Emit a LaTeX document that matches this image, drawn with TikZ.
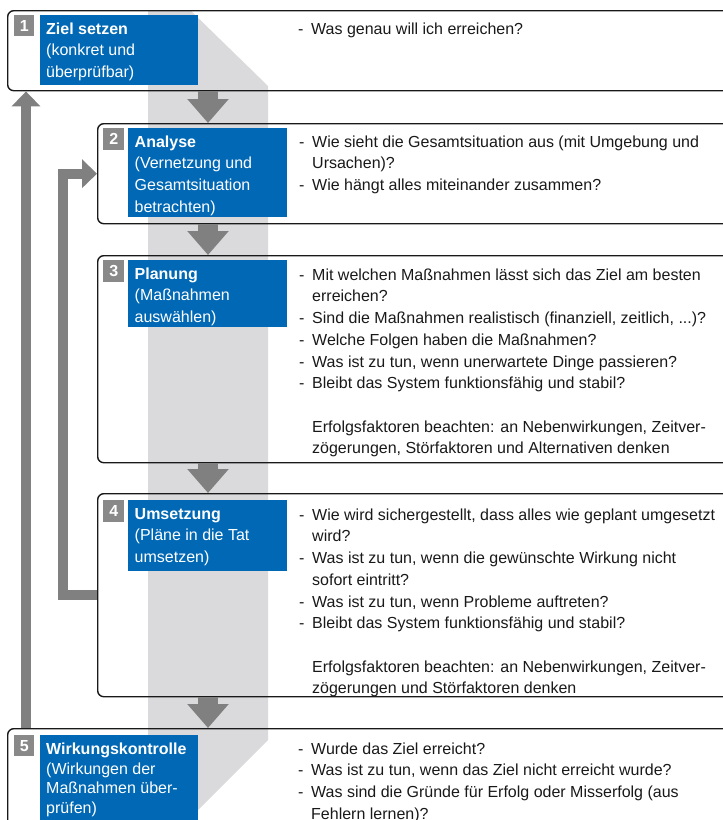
\documentclass[tikz,border=0pt]{standalone}
\usepackage{fontspec}
\setmainfont{Liberation Sans}
\usetikzlibrary{arrows.meta}
\definecolor{stageblue}{RGB}{0,104,180}
\definecolor{numgray}{RGB}{137,137,137}
\definecolor{bandgray}{RGB}{218,218,220}
\definecolor{arrowgray}{RGB}{128,128,128}
\newcommand\qdash{\makebox[13pt][l]{-}}
\newcommand\qcont{\hspace*{13pt}}
\newcommand\qstrut{\rule{0pt}{15pt}}
\begin{document}
\begin{tikzpicture}[x=1pt,y=-1pt,
  stage/.style={draw=black!90, line width=1.4pt, rounded corners=6pt, anchor=north west, inner sep=0pt},
  titlebox/.style={fill=stageblue, anchor=north west, inner sep=0pt},
  numbox/.style={fill=numgray, anchor=north west, inner sep=0pt, text=white, font=\fontsize{16}{19}\selectfont\bfseries},
  bluetext/.style={anchor=north west, inner sep=0pt, align=left, text=white, font=\fontsize{16}{21.7}\selectfont},
  qtext/.style={anchor=north west, inner sep=0pt, align=left, text=black!90, font=\fontsize{16}{21.7}\selectfont},
  flow/.style={draw=arrowgray, line width=20pt, -{Triangle[width=40pt,length=24pt]}},
  feedback/.style={draw=arrowgray, line width=10pt, line join=miter, -{Triangle[width=28pt,length=15pt]}},
]
\useasboundingbox (0,0) rectangle (723,820);
\clip (0,0) rectangle (723,820);
% background band
\fill[bandgray] (148,10) -- (190,10) -- (268,86) -- (268,740) -- (148,860) -- cycle;
% stage frames
\node[stage, minimum width=738pt, minimum height=80pt]  (b1) at (7,10)   {};
\node[stage, minimum width=648pt, minimum height=100pt] (b2) at (97,123) {};
\node[stage, minimum width=648pt, minimum height=207pt] (b3) at (97,255) {};
\node[stage, minimum width=648pt, minimum height=203pt] (b4) at (97,493) {};
\node[stage, minimum width=738pt, minimum height=130pt] (b5) at (7,728)  {};
% blue title boxes
\node[titlebox, minimum width=158pt, minimum height=70pt]  (t1) at (40,15)   {};
\node[titlebox, minimum width=159pt, minimum height=89pt]  (t2) at (128,128) {};
\node[titlebox, minimum width=159pt, minimum height=67pt]  (t3) at (128,260) {};
\node[titlebox, minimum width=159pt, minimum height=71pt]  (t4) at (128,500) {};
\node[titlebox, minimum width=158pt, minimum height=100pt] (t5) at (40,735)  {};
% number squares
\node[numbox, minimum width=20pt, minimum height=21pt] (n1) at (14,15)   {1};
\node[numbox, minimum width=21pt, minimum height=22pt] (n2) at (103,128) {2};
\node[numbox, minimum width=21pt, minimum height=22pt] (n3) at (103,260) {3};
\node[numbox, minimum width=21pt, minimum height=22pt] (n4) at (103,500) {4};
\node[numbox, minimum width=20pt, minimum height=21pt] (n5) at (14,735)  {5};
% title texts
\node[bluetext] (l1) at ([xshift=6pt,yshift=-4pt]t1.north west) {\qstrut\textbf{Ziel setzen}\\(konkret und\\überprüfbar)};
\node[bluetext] (l2) at ([xshift=6.5pt,yshift=-4pt]t2.north west) {\qstrut\textbf{Analyse}\\(Vernetzung und\\Gesamtsituation\\betrachten)};
\node[bluetext] (l3) at ([xshift=6.5pt,yshift=-4pt]t3.north west) {\qstrut\textbf{Planung}\\(Maßnahmen\\auswählen)};
\node[bluetext] (l4) at ([xshift=6.5pt,yshift=-4pt]t4.north west) {\qstrut\textbf{Umsetzung}\\(Pläne in die Tat\\umsetzen)};
\node[bluetext, font=\fontsize{16}{19.8}\selectfont] (l5) at ([xshift=6pt,yshift=-4pt]t5.north west) {\qstrut\textbf{Wirkungskontrolle}\\(Wirkungen der\\Maßnahmen über-\\prüfen)};
% question texts
\node[qtext] (q1) at (298,19) {\qstrut\qdash Was genau will ich erreichen?};
\node[qtext] (q2) at (299,132) {\qstrut\qdash Wie sieht die Gesamtsituation aus (mit Umgebung und\\\qcont Ursachen)?\\\qdash Wie hängt alles miteinander zusammen?};
\node[qtext] (q3) at (299,265) {\qstrut\qdash Mit welchen Maßnahmen lässt sich das Ziel am besten\\\qcont erreichen?\\\qdash Sind die Maßnahmen realistisch (finanziell, zeitlich, ...)?\\\qdash Welche Folgen haben die Maßnahmen?\\\qdash Was ist zu tun, wenn unerwartete Dinge passieren?\\\qdash Bleibt das System funktionsfähig und stabil?\\\mbox{}\\\qcont Erfolgsfaktoren beachten: an Nebenwirkungen, Zeitver-\\\qcont zögerungen, Störfaktoren und Alternativen denken};
\node[qtext] (q4) at (299,505) {\qstrut\qdash Wie wird sichergestellt, dass alles wie geplant umgesetzt\\\qcont wird?\\\qdash Was ist zu tun, wenn die gewünschte Wirkung nicht\\\qcont sofort eintritt?\\\qdash Was ist zu tun, wenn Probleme auftreten?\\\qdash Bleibt das System funktionsfähig und stabil?\\\mbox{}\\\qcont Erfolgsfaktoren beachten: an Nebenwirkungen, Zeitver-\\\qcont zögerungen und Störfaktoren denken};
\node[qtext] (q5) at (298,739) {\qstrut\qdash Wurde das Ziel erreicht?\\\qdash Was ist zu tun, wenn das Ziel nicht erreicht wurde?\\\qdash Was sind die Gründe für Erfolg oder Misserfolg (aus\\\qcont Fehlern lernen)?};
% flow arrows
\coordinate (ax) at (208,0);
\draw[flow] (b1.south -| ax) -- (b2.north -| ax);
\draw[flow] (b2.south -| ax) -- (b3.north -| ax);
\draw[flow] (b3.south -| ax) -- (b4.north -| ax);
\draw[flow] (b4.south -| ax) -- (b5.north -| ax);
% feedback arrows
\coordinate (fx) at (26,0);
\coordinate (gx) at (63,0);
\draw[feedback] (b5.north -| fx) -- (b1.south -| fx);
\draw[feedback] (b4.west) -- (b4.west -| gx) -- (b2.west -| gx) -- (b2.west);
\end{tikzpicture}
\end{document}
